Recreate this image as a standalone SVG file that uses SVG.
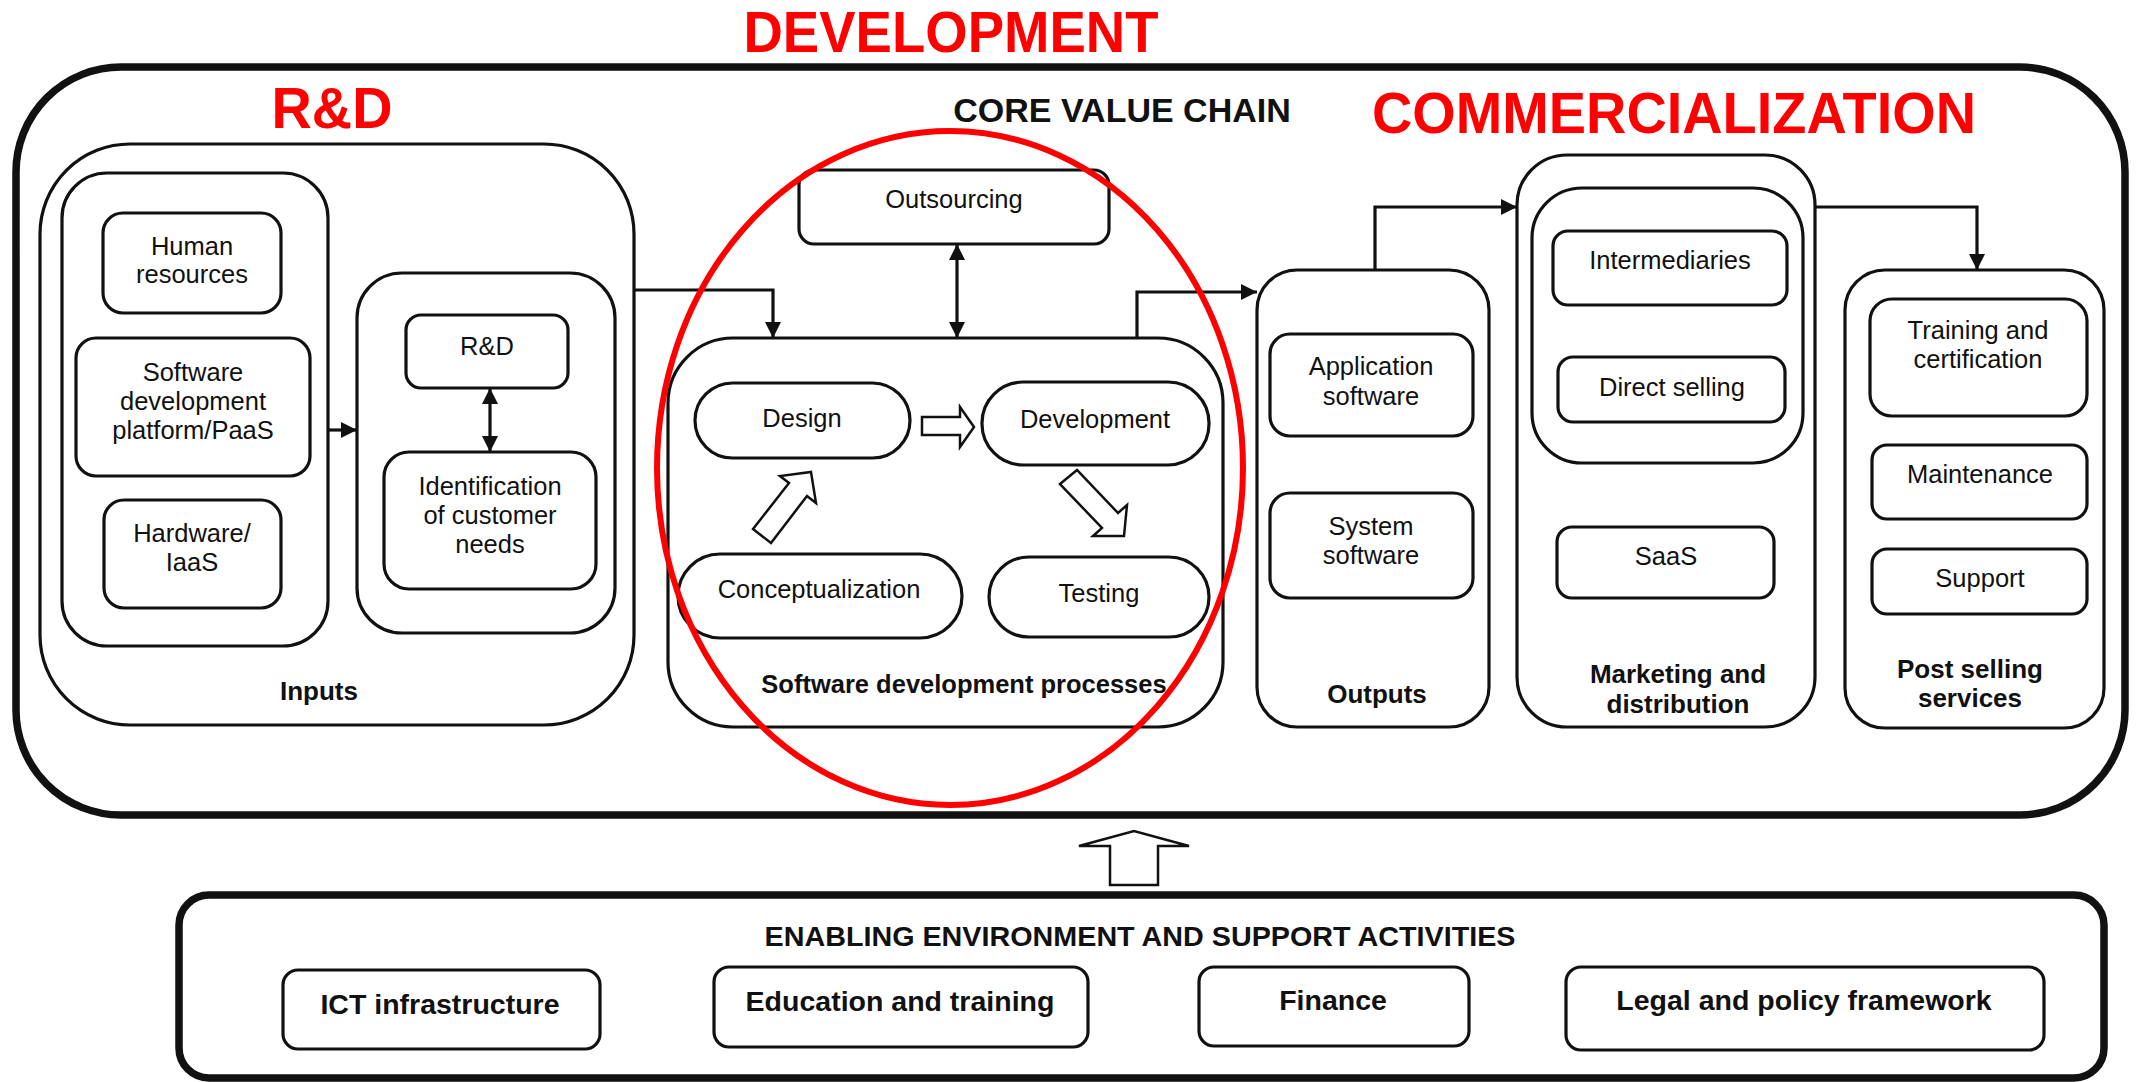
<svg xmlns="http://www.w3.org/2000/svg" width="2136" height="1082" viewBox="0 0 2136 1082">
<defs>
<style>
.box{fill:none;stroke:#111;stroke-width:3.2}
.heavy{fill:none;stroke:#111;stroke-width:7.5}
.t{font-family:"Liberation Sans",Arial,sans-serif;font-size:25.5px;fill:#111;text-anchor:middle}
.b{font-family:"Liberation Sans",Arial,sans-serif;font-size:25.5px;font-weight:bold;fill:#111;text-anchor:middle}
.bb{font-family:"Liberation Sans",Arial,sans-serif;font-size:28.5px;font-weight:bold;fill:#111;text-anchor:middle}
.red{font-family:"Liberation Sans",Arial,sans-serif;font-size:57px;font-weight:bold;fill:#FF0000;text-anchor:middle}
.line{fill:none;stroke:#111;stroke-width:3.2}
.hollow{fill:#fff;stroke:#111;stroke-width:2.5;stroke-linejoin:miter}
</style>
<marker id="ah" markerUnits="userSpaceOnUse" markerWidth="16" markerHeight="16" refX="16" refY="8" orient="auto-start-reverse">
<path d="M0,0 L16,8 L0,16 z" fill="#111"/>
</marker>
</defs>
<rect width="2136" height="1082" fill="#fff"/>

<g id="core-value-chain">
<rect class="heavy" x="16" y="67" width="2109" height="748" rx="105" ry="105"/>
<text class="b" x="1122" y="122" style="font-size:34px">CORE VALUE CHAIN</text>
</g>

<g id="inputs">
<rect class="box" x="40" y="144" width="594" height="581" rx="90" ry="90"/>
<text class="b" x="319" y="700" style="font-size:26px">Inputs</text>
</g>
<g id="resources-group">
<rect class="box" x="62" y="173" width="266" height="473" rx="45" ry="45"/>
</g>
<g id="human-resources">
<rect class="box" x="103" y="213" width="178" height="100" rx="20" ry="20"/>
<text class="t" x="192" y="255">Human</text>
<text class="t" x="192" y="283">resources</text>
</g>
<g id="software-platform">
<rect class="box" x="76" y="338" width="234" height="138" rx="20" ry="20"/>
<text class="t" x="193" y="381">Software</text>
<text class="t" x="193" y="410">development</text>
<text class="t" x="193" y="439">platform/PaaS</text>
</g>
<g id="hardware">
<rect class="box" x="104" y="500" width="177" height="108" rx="20" ry="20"/>
<text class="t" x="192" y="542">Hardware/</text>
<text class="t" x="192" y="571">IaaS</text>
</g>
<g id="rd-group">
<rect class="box" x="357" y="273" width="258" height="360" rx="45" ry="45"/>
</g>
<g id="rd">
<rect class="box" x="406" y="315" width="162" height="73" rx="15" ry="15"/>
<text class="t" x="487" y="355">R&amp;D</text>
</g>
<g id="identification">
<rect class="box" x="384" y="452" width="212" height="137" rx="25" ry="25"/>
<text class="t" x="490" y="495">Identification</text>
<text class="t" x="490" y="524">of customer</text>
<text class="t" x="490" y="553">needs</text>
</g>

<g id="outsourcing">
<rect class="box" x="799" y="170" width="310" height="74" rx="15" ry="15"/>
<text class="t" x="954" y="208">Outsourcing</text>
</g>
<g id="sdp">
<rect class="box" x="668" y="338" width="555" height="389" rx="65" ry="65"/>
<text class="b" x="964" y="693">Software development processes</text>
</g>
<g id="design">
<rect class="box" x="695" y="383" width="215" height="75" rx="37.5" ry="37.5"/>
<text class="t" x="802" y="427">Design</text>
</g>
<g id="development">
<rect class="box" x="982" y="382" width="227" height="83" rx="41" ry="41"/>
<text class="t" x="1095" y="428">Development</text>
</g>
<g id="conceptualization">
<rect class="box" x="678" y="554" width="284" height="84" rx="42" ry="42"/>
<text class="t" x="819" y="598">Conceptualization</text>
</g>
<g id="testing">
<rect class="box" x="989" y="557" width="220" height="80" rx="40" ry="40"/>
<text class="t" x="1099" y="602">Testing</text>
</g>

<g id="outputs">
<rect class="box" x="1257" y="270" width="232" height="457" rx="40" ry="40"/>
<text class="b" x="1377" y="703" style="font-size:26px">Outputs</text>
</g>
<g id="application-software">
<rect class="box" x="1270" y="334" width="203" height="102" rx="20" ry="20"/>
<text class="t" x="1371" y="375">Application</text>
<text class="t" x="1371" y="405">software</text>
</g>
<g id="system-software">
<rect class="box" x="1270" y="493" width="203" height="105" rx="20" ry="20"/>
<text class="t" x="1371" y="535">System</text>
<text class="t" x="1371" y="564">software</text>
</g>

<g id="marketing">
<rect class="box" x="1517" y="155" width="298" height="572" rx="50" ry="50"/>
<text class="b" x="1678" y="683" style="font-size:26px">Marketing and</text>
<text class="b" x="1678" y="713" style="font-size:26px">distribution</text>
</g>
<g id="marketing-channels">
<rect class="box" x="1532" y="188" width="271" height="275" rx="50" ry="50"/>
</g>
<g id="intermediaries">
<rect class="box" x="1553" y="231" width="234" height="74" rx="15" ry="15"/>
<text class="t" x="1670" y="269">Intermediaries</text>
</g>
<g id="direct-selling">
<rect class="box" x="1558" y="357" width="227" height="65" rx="15" ry="15"/>
<text class="t" x="1672" y="396">Direct selling</text>
</g>
<g id="saas">
<rect class="box" x="1557" y="527" width="217" height="71" rx="15" ry="15"/>
<text class="t" x="1666" y="565">SaaS</text>
</g>

<g id="post-selling">
<rect class="box" x="1845" y="270" width="259" height="458" rx="40" ry="40"/>
<text class="b" x="1970" y="678" style="font-size:26px">Post selling</text>
<text class="b" x="1970" y="707" style="font-size:26px">services</text>
</g>
<g id="training">
<rect class="box" x="1870" y="299" width="217" height="117" rx="22" ry="22"/>
<text class="t" x="1978" y="339">Training and</text>
<text class="t" x="1978" y="368">certification</text>
</g>
<g id="maintenance">
<rect class="box" x="1872" y="445" width="215" height="74" rx="15" ry="15"/>
<text class="t" x="1980" y="483">Maintenance</text>
</g>
<g id="support">
<rect class="box" x="1872" y="549" width="215" height="65" rx="15" ry="15"/>
<text class="t" x="1980" y="587">Support</text>
</g>

<g id="enabling-environment">
<rect class="heavy" x="179" y="895" width="1925" height="183" rx="30" ry="30"/>
<text class="bb" x="1140" y="946" textLength="751" lengthAdjust="spacingAndGlyphs">ENABLING ENVIRONMENT AND SUPPORT ACTIVITIES</text>
</g>
<g id="ict">
<rect class="box" x="283" y="970" width="317" height="79" rx="15" ry="15"/>
<text class="bb" x="440" y="1014">ICT infrastructure</text>
</g>
<g id="education">
<rect class="box" x="714" y="967" width="374" height="80" rx="15" ry="15"/>
<text class="bb" x="900" y="1011">Education and training</text>
</g>
<g id="finance">
<rect class="box" x="1199" y="967" width="270" height="79" rx="15" ry="15"/>
<text class="bb" x="1333" y="1010">Finance</text>
</g>
<g id="legal">
<rect class="box" x="1566" y="967" width="478" height="83" rx="15" ry="15"/>
<text class="bb" x="1804" y="1010">Legal and policy framework</text>
</g>

<g id="connectors">
<path class="line" d="M328,430 H357" marker-end="url(#ah)"/>
<path class="line" d="M490,388 V452" marker-start="url(#ah)" marker-end="url(#ah)"/>
<path class="line" d="M634,290 H773 V338" marker-end="url(#ah)"/>
<path class="line" d="M957,244 V338" marker-start="url(#ah)" marker-end="url(#ah)"/>
<path class="line" d="M1137,338 V292 H1257" marker-end="url(#ah)"/>
<path class="line" d="M1375,270 V207 H1517" marker-end="url(#ah)"/>
<path class="line" d="M1815,207 H1977 V270" marker-end="url(#ah)"/>
<polygon class="hollow" points="922,417 960,417 960,407 974,427 960,447 960,435 922,435"/>
<polygon class="hollow" points="753,529 771,543 807,496 816,503 811,472 780,476 789,483"/>
<polygon class="hollow" points="1060,484 1077,470 1118,513 1127,505 1124,536 1093,536 1102,528"/>
<polygon class="hollow" points="1110,885 1158,885 1158,846 1189,846 1134,831 1079,846 1110,846"/>
</g>

<g id="annotations">
<ellipse cx="950" cy="468" rx="293" ry="337" fill="none" stroke="#FF0000" stroke-width="6"/>
<text class="red" x="332" y="128" textLength="121" lengthAdjust="spacingAndGlyphs">R&amp;D</text>
<text class="red" x="951" y="52" textLength="415" lengthAdjust="spacingAndGlyphs">DEVELOPMENT</text>
<text class="red" x="1674" y="133" textLength="604" lengthAdjust="spacingAndGlyphs">COMMERCIALIZATION</text>
</g>
</svg>
